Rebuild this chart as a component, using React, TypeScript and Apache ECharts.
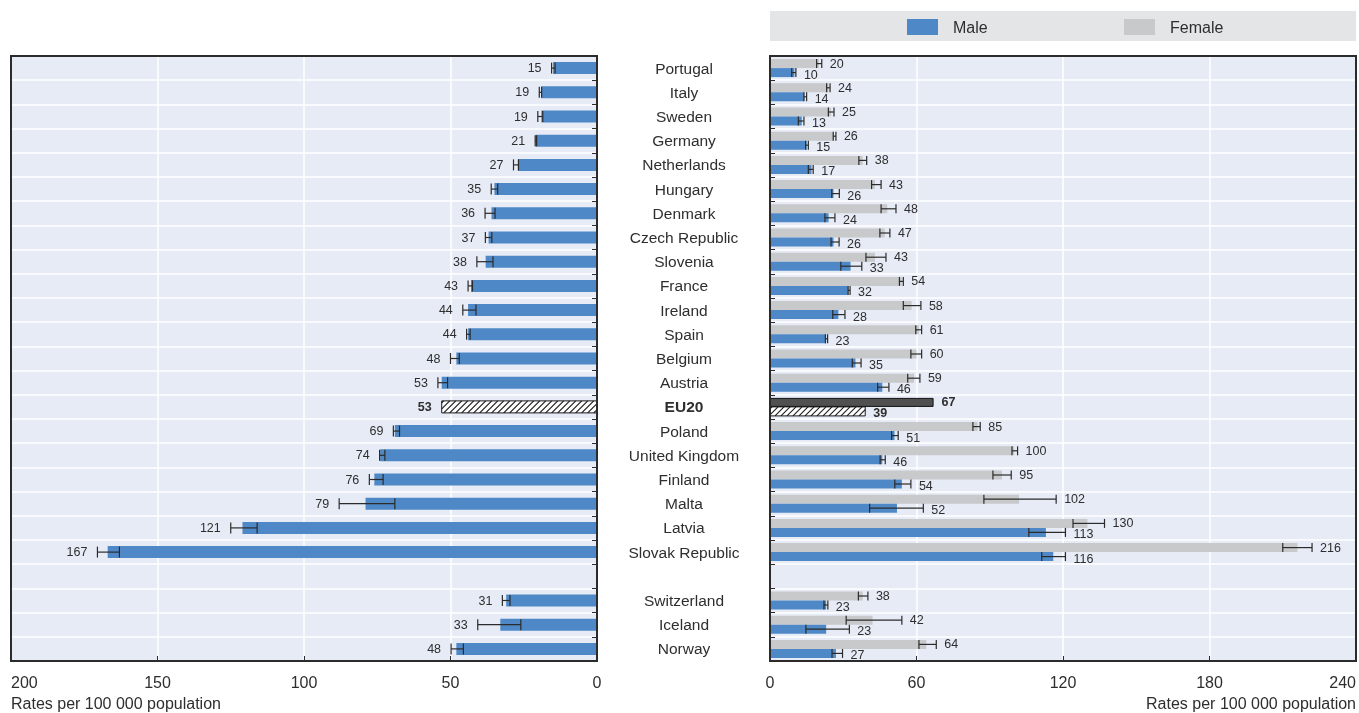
import React, { useEffect, useRef } from 'react';
import * as echarts from 'echarts';

const categories = ['Portugal', 'Italy', 'Sweden', 'Germany', 'Netherlands', 'Hungary', 'Denmark', 'Czech Republic', 'Slovenia', 'France', 'Ireland', 'Spain', 'Belgium', 'Austria', 'EU20', 'Poland', 'United Kingdom', 'Finland', 'Malta', 'Latvia', 'Slovak Republic', ' ', 'Switzerland', 'Iceland', 'Norway'];

const total = [15, 19, 19, 21, 27, 35, 36, 37, 38, 43, 44, 44, 48, 53, 53, 69, 74, 76, 79, 121, 167, null, 31, 33, 48];
const totalLow = [14.3, 18.9, 18.5, 20.6, 26.8, 33.9, 34.8, 35.9, 35.5, 42.5, 41.3, 43.3, 47, 51, null, 67.4, 72.4, 73, 69, 116, 163, null, 29.7, 26, 45.6];
const totalHigh = [15.5, 19.7, 20.2, 21.1, 28.5, 36.1, 38.2, 38.1, 41, 44, 45.8, 44.5, 50, 54.3, null, 69.5, 74.2, 77.7, 88, 125, 170.5, null, 32.3, 40.7, 49.8];

const female = [20, 24, 25, 26, 38, 43, 48, 47, 43, 54, 58, 61, 60, 59, 67, 85, 100, 95, 102, 130, 216, null, 38, 42, 64];
const femaleLow = [19.1, 23.2, 23.9, 25.9, 36.4, 41.6, 45.5, 45, 39.3, 53, 54.6, 59.7, 57.7, 56.4, null, 83.1, 99.1, 91.3, 87.6, 124.1, 210, null, 36.2, 31.2, 61];
const femaleHigh = [21.2, 24.6, 26.2, 27, 39.6, 45.5, 51.6, 49.1, 47.5, 54.6, 61.8, 62.1, 62.1, 61.4, null, 86.1, 101.4, 98.8, 117.2, 137, 222, null, 40.1, 54, 68.1];

const male = [10, 14, 13, 15, 17, 26, 24, 26, 33, 32, 28, 23, 35, 46, 39, 51, 46, 54, 52, 113, 116, null, 23, 23, 27];
const maleLow = [8.9, 13.9, 11.6, 14.6, 15.7, 25.3, 22.5, 25, 29, 32, 25.7, 22.7, 33.7, 44.1, null, 49.8, 45.1, 51.1, 40.8, 106, 111.3, null, 22.1, 14.7, 25.4];
const maleHigh = [10.6, 15, 13.9, 15.7, 17.7, 28.4, 26.6, 28.3, 37.6, 32.8, 30.7, 23.6, 37.3, 48.7, null, 52.5, 47.2, 57.7, 62.8, 121, 121, null, 23.7, 32.5, 29.7];

const leftTicks = { min: 0, max: 200, interval: 50 };
const rightTicks = { min: 0, max: 240, interval: 60 };
const axisTitle = 'Rates per 100 000 population';
const legendNames = ['Male', 'Female'];

const EU_INDEX = categories.indexOf('EU20');
const FONT = "'Liberation Sans', Arial, sans-serif";
const BLUE = '#4e88c7';
const GRAY = '#c8c9cb';
const BG = '#e6ebf6';
const TEXT = '#2e2e2e';
const DARK = '#2b2b2b';

function buildErrData(vals: (number | null)[], lo: (number | null)[], hi: (number | null)[]) {
  const out: number[][] = [];
  vals.forEach((v, i) => {
    if (v == null) return;
    const isEU = i === EU_INDEX ? 1 : 0;
    out.push([lo[i] ?? v, hi[i] ?? v, i, v, isEU]);
  });
  return out;
}

function makeErrRender(offset: number, cap: number, labelDy: number, side: 'left' | 'right', gap: number, fontSize: number) {
  return (params: any, api: any) => {
    const lo = api.value(0);
    const hi = api.value(1);
    const idx = api.value(2);
    const val = api.value(3);
    const eu = api.value(4);
    const c = api.coord([val, idx]);
    const y = c[1] + offset;
    const pLo = api.coord([lo, idx])[0];
    const pHi = api.coord([hi, idx])[0];
    const children: any[] = [];
    const ls = { stroke: DARK, lineWidth: 1.2 };
    if (!eu) {
      children.push({ type: 'line', shape: { x1: pLo, y1: y, x2: pHi, y2: y }, style: ls });
      children.push({ type: 'line', shape: { x1: pLo, y1: y - cap, x2: pLo, y2: y + cap }, style: ls });
      children.push({ type: 'line', shape: { x1: pHi, y1: y - cap, x2: pHi, y2: y + cap }, style: ls });
    }
    const far = side === 'left' ? Math.min(pLo, pHi, c[0]) : Math.max(pLo, pHi, c[0]);
    const tx = side === 'left' ? far - gap : far + gap;
    children.push({
      type: 'text',
      style: {
        text: String(val),
        x: tx,
        y: y + labelDy,
        align: side === 'left' ? 'right' : 'left',
        verticalAlign: 'middle',
        textAlign: side === 'left' ? 'right' : 'left',
        textVerticalAlign: 'middle',
        fontSize,
        fontFamily: FONT,
        fontWeight: eu ? 'bold' : 'normal',
        fill: TEXT,
      },
    });
    return { type: 'group', children };
  };
}

function makeHatchRender(offset: number, thickness: number) {
  return (params: any, api: any) => {
    const val = api.value(0);
    const idx = api.value(1);
    const p0 = api.coord([0, idx]);
    const p1 = api.coord([val, idx]);
    const x0 = Math.min(p0[0], p1[0]);
    const x1 = Math.max(p0[0], p1[0]);
    const y0 = p0[1] + offset - thickness / 2;
    const y1 = y0 + thickness;
    const children: any[] = [];
    const step = 6;
    for (let c = x0 + y0 + 2; c < x1 + y1; c += step) {
      const sx = Math.max(x0, c - y1);
      const ex = Math.min(x1, c - y0);
      if (ex - sx < 0.5) continue;
      children.push({
        type: 'line',
        shape: { x1: sx, y1: c - sx, x2: ex, y2: c - ex },
        style: { stroke: '#1a1a1a', lineWidth: 1.1 },
      });
    }
    children.push({
      type: 'rect',
      shape: { x: x0, y: y0, width: x1 - x0, height: thickness },
      style: { fill: 'none', stroke: '#1a1a1a', lineWidth: 1 },
    });
    return { type: 'group', children };
  };
}

export default function App() {
  const ref = useRef<HTMLDivElement>(null);
  useEffect(() => {
    if (!ref.current) return;
    const chart = echarts.init(ref.current, null, { renderer: 'svg' });
    const tickLabel = { fontFamily: FONT, fontSize: 16, color: TEXT, margin: 13 };
    const splitWhite = { show: true, lineStyle: { color: '#ffffff', width: 1.5 } };
    const tickIn = { show: true, inside: true, length: 5, lineStyle: { color: DARK, width: 1 } };
    const option: any = {
      animation: false,
      grid: [
        { left: 11, top: 56, width: 586, height: 605, show: true, backgroundColor: BG, borderWidth: 0 },
        { left: 770, top: 56, width: 586, height: 605, show: true, backgroundColor: BG, borderWidth: 0 },
      ],
      xAxis: [
        {
          gridIndex: 0, type: 'value', inverse: true, ...leftTicks,
          axisLine: { show: false }, axisTick: tickIn, splitLine: splitWhite,
          axisLabel: { ...tickLabel, alignMaxLabel: 'left' },
        },
        {
          gridIndex: 1, type: 'value', ...rightTicks,
          axisLine: { show: false }, axisTick: tickIn, splitLine: splitWhite,
          axisLabel: { ...tickLabel, alignMaxLabel: 'right' },
        },
      ],
      yAxis: [
        {
          gridIndex: 0, type: 'category', data: categories, inverse: true, position: 'right',
          axisLine: { show: false }, axisTick: { ...tickIn, interval: 0 }, splitLine: { ...splitWhite, interval: 0 },
          axisLabel: { show: false },
        },
        {
          gridIndex: 1, type: 'category', data: categories, inverse: true, position: 'left',
          axisLine: { show: false }, axisTick: { ...tickIn, interval: 0 }, splitLine: { ...splitWhite, interval: 0 },
          axisLabel: {
            show: true, interval: 0, margin: 86, align: 'center',
            fontFamily: FONT, fontSize: 15.5, color: TEXT,
            formatter: (v: string) => (v === 'EU20' ? '{b|EU20}' : v),
            rich: { b: { fontFamily: FONT, fontSize: 15.5, fontWeight: 'bold', color: TEXT } },
          },
        },
      ],
      series: [
        {
          type: 'bar', name: 'Total', xAxisIndex: 0, yAxisIndex: 0, barWidth: 12,
          itemStyle: { color: BLUE },
          data: total.map((v, i) => (i === EU_INDEX ? { value: v, itemStyle: { color: '#ffffff' } } : v)),
        },
        {
          type: 'bar', name: 'Female', xAxisIndex: 1, yAxisIndex: 1, barWidth: 9, barGap: '0%',
          itemStyle: { color: GRAY },
          data: female.map((v, i) => (i === EU_INDEX ? { value: v, itemStyle: { color: '#505050', borderColor: '#111', borderWidth: 1 } } : v)),
        },
        {
          type: 'bar', name: 'Male', xAxisIndex: 1, yAxisIndex: 1, barWidth: 9, barGap: '0%',
          itemStyle: { color: BLUE },
          data: male.map((v, i) => (i === EU_INDEX ? { value: v, itemStyle: { color: '#ffffff' } } : v)),
        },
        {
          type: 'custom', xAxisIndex: 0, yAxisIndex: 0, z: 3,
          renderItem: makeHatchRender(0, 12),
          encode: { x: 0, y: 1 },
          data: [[total[EU_INDEX], EU_INDEX]],
        },
        {
          type: 'custom', xAxisIndex: 1, yAxisIndex: 1, z: 3,
          renderItem: makeHatchRender(4.5, 9),
          encode: { x: 0, y: 1 },
          data: [[male[EU_INDEX], EU_INDEX]],
        },
        {
          type: 'custom', xAxisIndex: 0, yAxisIndex: 0, z: 4, clip: false,
          renderItem: makeErrRender(0, 5.5, 0, 'left', 10, 12.5),
          encode: { x: [0, 1], y: 2 },
          data: buildErrData(total, totalLow, totalHigh),
        },
        {
          type: 'custom', xAxisIndex: 1, yAxisIndex: 1, z: 4, clip: false,
          renderItem: makeErrRender(-4.5, 4.5, 0, 'right', 8, 12.5),
          encode: { x: [0, 1], y: 2 },
          data: buildErrData(female, femaleLow, femaleHigh),
        },
        {
          type: 'custom', xAxisIndex: 1, yAxisIndex: 1, z: 4, clip: false,
          renderItem: makeErrRender(4.5, 4.5, 2, 'right', 8, 12.5),
          encode: { x: [0, 1], y: 2 },
          data: buildErrData(male, maleLow, maleHigh),
        },
      ],
      graphic: [
        { type: 'rect', z: 100, shape: { x: 11, y: 56, width: 586, height: 605 }, style: { fill: 'none', stroke: DARK, lineWidth: 2 }, silent: true },
        { type: 'rect', z: 100, shape: { x: 770, y: 56, width: 586, height: 605 }, style: { fill: 'none', stroke: DARK, lineWidth: 2 }, silent: true },
        { type: 'rect', shape: { x: 770, y: 11, width: 586, height: 30 }, style: { fill: '#e4e5e7' }, silent: true },
        { type: 'rect', shape: { x: 907, y: 19, width: 31, height: 16 }, style: { fill: BLUE } },
        { type: 'text', x: 953, y: 27, style: { text: legendNames[0], fontFamily: FONT, fontSize: 16, fill: TEXT, textAlign: 'left', textVerticalAlign: 'middle', align: 'left', verticalAlign: 'middle' } },
        { type: 'rect', shape: { x: 1124, y: 19, width: 31, height: 16 }, style: { fill: GRAY } },
        { type: 'text', x: 1170, y: 27, style: { text: legendNames[1], fontFamily: FONT, fontSize: 16, fill: TEXT, textAlign: 'left', textVerticalAlign: 'middle', align: 'left', verticalAlign: 'middle' } },
        { type: 'text', x: 11, y: 703, style: { text: axisTitle, fontFamily: FONT, fontSize: 16, fill: TEXT, textAlign: 'left', textVerticalAlign: 'middle', align: 'left', verticalAlign: 'middle' } },
        { type: 'text', x: 1356, y: 703, style: { text: axisTitle, fontFamily: FONT, fontSize: 16, fill: TEXT, textAlign: 'right', textVerticalAlign: 'middle', align: 'right', verticalAlign: 'middle' } },
      ],
    };
    chart.setOption(option);
    return () => chart.dispose();
  }, []);
  return <div ref={ref} style={{ position: 'fixed', left: 0, top: 0, width: 1359, height: 713 }} />;
}
